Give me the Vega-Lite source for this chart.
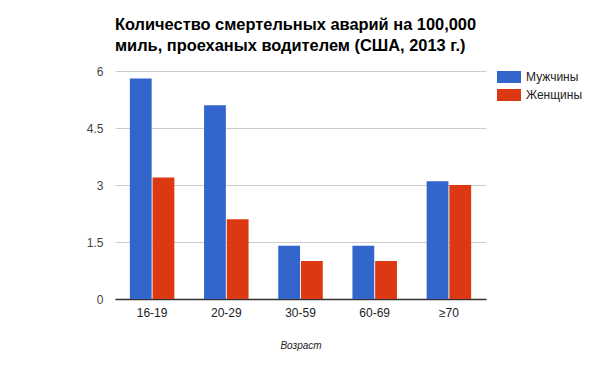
{
  "$schema": "https://vega.github.io/schema/vega-lite/v6.json",
  "width": 371,
  "height": 228,
  "autosize": {"type": "none"},
  "padding": {"left": 115, "top": 71, "right": 114, "bottom": 72},
  "background": "white",
  "title": {
    "text": ["Количество смертельных аварий на 100,000", "миль, проеханых водителем (США, 2013 г.)"],
    "anchor": "start",
    "frame": "group",
    "font": "Liberation Sans",
    "fontSize": 16.4,
    "fontWeight": "bold",
    "color": "#000000",
    "lineHeight": 21,
    "baseline": "alphabetic",
    "offset": 19,
    "dy": 21
  },
  "data": {
    "values": [
      {"age": "16-19", "sex": "Мужчины", "value": 5.8},
      {"age": "16-19", "sex": "Женщины", "value": 3.2},
      {"age": "20-29", "sex": "Мужчины", "value": 5.1},
      {"age": "20-29", "sex": "Женщины", "value": 2.1},
      {"age": "30-59", "sex": "Мужчины", "value": 1.4},
      {"age": "30-59", "sex": "Женщины", "value": 1.0},
      {"age": "60-69", "sex": "Мужчины", "value": 1.4},
      {"age": "60-69", "sex": "Женщины", "value": 1.0},
      {"age": "≥70", "sex": "Мужчины", "value": 3.1},
      {"age": "≥70", "sex": "Женщины", "value": 3.0}
    ]
  },
  "mark": {"type": "bar"},
  "encoding": {
    "x": {
      "field": "age",
      "type": "nominal",
      "sort": ["16-19", "20-29", "30-59", "60-69", "≥70"],
      "scale": {"paddingInner": 0.4, "paddingOuter": 0.2},
      "axis": {
        "title": "Возраст",
        "titleFont": "Liberation Sans",
        "titleFontSize": 10,
        "titleFontStyle": "italic",
        "titleFontWeight": "normal",
        "titleColor": "#222222",
        "titlePadding": 22,
        "labelAngle": 0,
        "labelFont": "Liberation Sans",
        "labelFontSize": 12,
        "labelColor": "#222222",
        "labelPadding": 8,
        "ticks": false,
        "domainColor": "#333333",
        "domainWidth": 1.5
      }
    },
    "xOffset": {
      "field": "sex",
      "type": "nominal",
      "sort": ["Мужчины", "Женщины"],
      "scale": {"paddingInner": 0.04}
    },
    "y": {
      "field": "value",
      "type": "quantitative",
      "scale": {"domain": [0, 6], "nice": false},
      "axis": {
        "title": null,
        "values": [0, 1.5, 3, 4.5, 6],
        "labelFont": "Liberation Sans",
        "labelFontSize": 12,
        "labelColor": "#444444",
        "labelPadding": 12,
        "ticks": false,
        "domain": false,
        "gridColor": "#cccccc",
        "format": ".2~f"
      }
    },
    "color": {
      "field": "sex",
      "type": "nominal",
      "sort": ["Мужчины", "Женщины"],
      "scale": {"domain": ["Мужчины", "Женщины"], "range": ["#3366cc", "#dc3912"]},
      "legend": {
        "title": null,
        "orient": "none",
        "legendX": 382,
        "legendY": 0,
        "padding": 0,
        "symbolType": "M-1,-1H3V1H-1Z",
        "symbolSize": 144,
        "symbolStrokeWidth": 0,
        "symbolOpacity": 1,
        "labelOffset": 17,
        "labelFont": "Liberation Sans",
        "labelFontSize": 12,
        "labelColor": "#222222",
        "rowPadding": 6
      }
    }
  },
  "config": {
    "view": {"stroke": null},
    "font": "Liberation Sans"
  }
}
